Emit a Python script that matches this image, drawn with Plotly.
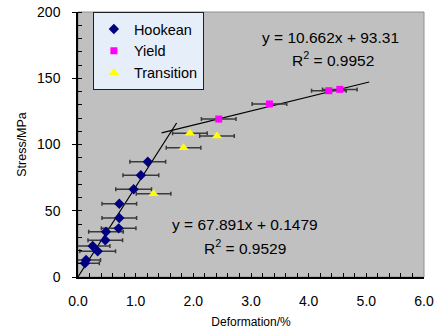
import plotly.graph_objects as go

# Data
hook_x = [1.21, 1.09, 0.965, 0.716, 0.716, 0.705, 0.485, 0.473, 0.254, 0.341, 0.14, 0.12]
hook_y = [87.0, 76.8, 66.2, 55.3, 44.5, 36.7, 34.2, 27.7, 23.4, 19.4, 12.8, 10.3]
hook_err = [0.31, 0.31, 0.31, 0.30, 0.30, 0.30, 0.30, 0.30, 0.30, 0.31, 0.25, 0.25]

yield_x = [2.44, 3.32, 4.35, 4.54]
yield_y = [119.2, 130.6, 140.6, 141.6]
yield_err = [0.3, 0.3, 0.3, 0.3]

trans_x = [1.94, 2.41, 1.83, 1.31]
trans_y = [108.4, 106.4, 97.6, 62.9]
trans_err = [0.3, 0.3, 0.3, 0.3]

# Trendline coefficients
hook_fit = (67.891, 0.1479)
hook_fit_range = [0.0, 1.71]
yield_fit = (10.662, 93.31)
yield_fit_range = [1.45, 5.05]

eq_texts = ["y = 10.662x + 93.31", "R<sup>2</sup> = 0.9952",
            "y = 67.891x + 0.1479", "R<sup>2</sup> = 0.9529"]
eq_pos = [(4.38, 180.4), (4.42, 164.5), (2.90, 40.0), (2.89, 22.6)]

font = "Liberation Sans, Arial, sans-serif"
errcol = "#3a3a3a"

fig = go.Figure()

# fit lines
fig.add_trace(go.Scatter(
    x=hook_fit_range, y=[hook_fit[0] * v + hook_fit[1] for v in hook_fit_range],
    mode="lines", line=dict(color="black", width=1.2), showlegend=False, hoverinfo="skip"))
fig.add_trace(go.Scatter(
    x=yield_fit_range, y=[yield_fit[0] * v + yield_fit[1] for v in yield_fit_range],
    mode="lines", line=dict(color="black", width=1.2), showlegend=False, hoverinfo="skip"))

def err(arr):
    return dict(type="data", array=arr, visible=True, color=errcol, thickness=1.5, width=2)

fig.add_trace(go.Scatter(
    x=hook_x, y=hook_y, mode="markers", name="Hookean", error_x=err(hook_err),
    marker=dict(symbol="diamond", size=8, color="#000080")))
fig.add_trace(go.Scatter(
    x=yield_x, y=yield_y, mode="markers", name="Yield", error_x=err(yield_err),
    marker=dict(symbol="square", size=7, color="#FF00FF")))
fig.add_trace(go.Scatter(
    x=trans_x, y=trans_y, mode="markers", name="Transition", error_x=err(trans_err),
    marker=dict(symbol="triangle-up", size=9, color="#FFFF00")))

fig.update_layout(
    width=434, height=332,
    margin=dict(l=78, r=10, t=12, b=55),
    paper_bgcolor="white", plot_bgcolor="#C0C0C0",
    font=dict(family=font, size=14, color="black"),
    showlegend=True,
    legend=dict(x=0.043, y=1.0, xanchor="left", yanchor="top",
                bgcolor="#E6EEFA", bordercolor="#202020", borderwidth=1,
                font=dict(size=14.5, family=font), tracegroupgap=0,
                itemwidth=30),
    shapes=[dict(type="rect", xref="paper", yref="paper", x0=0, y0=0, x1=1, y1=1,
                 line=dict(color="#909090", width=1), layer="below")],
    annotations=[dict(text=t, x=px, y=py, xref="x", yref="y", showarrow=False,
                      font=dict(size=15.5)) for t, (px, py) in zip(eq_texts, eq_pos)],
)

fig.update_xaxes(
    range=[0, 6], dtick=1, tickformat=".1f", showgrid=False, zeroline=False,
    showline=True, linecolor="black", linewidth=1.5, automargin=False,
    ticks="inside", ticklen=4, tickcolor="black",
    minor=dict(dtick=0.2, ticks="inside", ticklen=4, tickcolor="black"),
    tickfont=dict(size=14), ticklabelstandoff=10,
    title=dict(text="Deformation/%", font=dict(size=12), standoff=10))
fig.update_yaxes(
    range=[0, 200], dtick=50, showgrid=False, zeroline=False,
    showline=True, linecolor="black", linewidth=1.5, automargin=False,
    ticks="outside", ticklen=4, tickcolor="black",
    minor=dict(dtick=10, ticks="inside", ticklen=4, tickcolor="black"),
    tickfont=dict(size=14), ticklabelstandoff=9,
    title=dict(text="Stress/MPa", font=dict(size=12.5), standoff=8))

fig.write_html("out.html")
